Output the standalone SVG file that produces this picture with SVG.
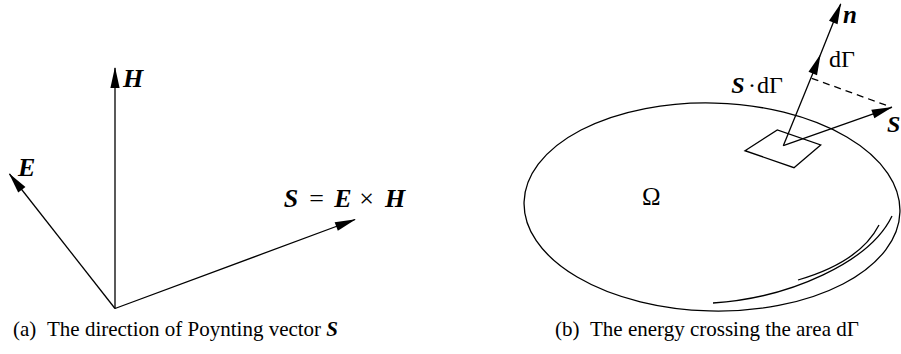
<svg xmlns="http://www.w3.org/2000/svg" width="901" height="354" viewBox="0 0 901 354">
<style>
.ln{stroke:#000;stroke-width:1.3;fill:none}
.ar{marker-end:url(#ah)}
.m{font-family:"Liberation Serif","Times New Roman",serif;font-weight:bold;font-style:italic;font-size:26px;fill:#000}
.r{font-family:"Liberation Serif","Times New Roman",serif;font-size:24px;fill:#000}
.cap{font-family:"Liberation Serif","Times New Roman",serif;font-size:21px;fill:#000}
.c{text-anchor:middle}
</style>
<defs>
<marker id="ah" markerUnits="userSpaceOnUse" markerWidth="21" markerHeight="10" refX="20" refY="5" orient="auto" overflow="visible">
<path d="M0,0.4 L21,5 L0,9.6 Z" fill="#000"/>
</marker>
</defs>
<rect width="901" height="354" fill="#fff"/>

<g id="connectors">
<line class="ln ar" x1="115" y1="308.5" x2="115" y2="68"/>
<line class="ln ar" x1="115" y1="308.5" x2="9.5" y2="174"/>
<line class="ln ar" x1="115" y1="308.5" x2="355" y2="219.5"/>
<line class="ln ar" x1="783.3" y1="145.7" x2="820.3" y2="55"/>
<line class="ln ar" x1="820.3" y1="55" x2="840.7" y2="4"/>
<line class="ln ar" x1="783.3" y1="145.7" x2="891.7" y2="107.3"/>
<line class="ln" x1="811.7" y1="78.3" x2="891.7" y2="107.3" stroke-dasharray="7,5"/>
</g>

<g id="panel-a-labels">
<text class="m" x="123" y="87">H</text>
<text class="m" x="18" y="176">E</text>
<g id="formula">
<text class="m c" x="291" y="207">S</text>
<text class="m c" x="316.5" y="207" style="font-style:normal;font-weight:normal">=</text>
<text class="m c" x="343" y="207">E</text>
<text class="m c" x="366.7" y="207" style="font-weight:normal;font-style:normal">×</text>
<text class="m c" x="395" y="207">H</text>
</g>
</g>

<g id="region">
<ellipse class="ln" cx="712" cy="207" rx="188" ry="104" transform="rotate(1.5 712 207)"/>
<path class="ln" d="M798,280 Q860,262 879,225"/>
<path class="ln" d="M713,303 C790,298 870,262 892,216"/>
<text class="r" x="642" y="205" style="font-size:25px">Ω</text>
</g>

<g id="surface-element">
<polygon class="ln" points="745,150.7 777.3,130 820.7,145 794,167.7"/>
</g>

<g id="panel-b-labels">
<text class="m" x="843" y="23" style="font-size:25px">n</text>
<text class="r" x="829" y="67">dΓ</text>
<text class="m c" x="738" y="93" style="font-size:24px">S</text>
<text class="r c" x="752" y="93">·</text>
<text class="r" x="757" y="93">dΓ</text>
<text class="m" x="887" y="131.5" style="font-size:24px">S</text>
</g>

<g id="captions">
<text class="cap" x="13" y="336">(a)<tspan x="47">The direction of Poynting vector </tspan><tspan class="m" style="font-size:21px">S</tspan></text>
<text class="cap" x="555" y="336">(b)<tspan x="590">The energy crossing the area dΓ</tspan></text>
</g>
</svg>
